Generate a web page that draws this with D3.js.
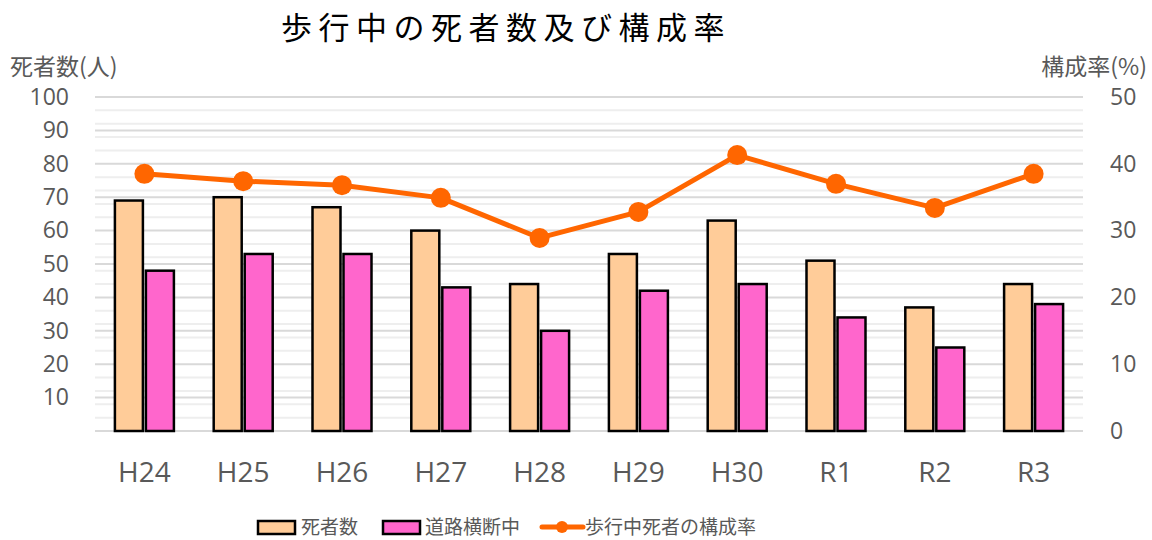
<!DOCTYPE html>
<html><head><meta charset="utf-8">
<script src="https://cdn.jsdelivr.net/npm/d3@7"></script>
<style>body{margin:0;background:#fff}svg{display:block}</style>
</head><body><svg id="c" width="1152" height="540"></svg>
<script>
const categories = ["H24","H25","H26","H27","H28","H29","H30","R1","R2","R3"];
const deaths = [69,70,67,60,44,53,63,51,37,44];
const crossing = [48,53,53,43,30,42,44,34,25,38];
const ratio = [38.5,37.4,36.8,34.9,28.9,32.8,41.3,37.0,33.4,38.5];
const leftTicks = [10,20,30,40,50,60,70,80,90,100];
const rightTicks = [0,10,20,30,40,50];

const svg = d3.select("#c");
const cjk = "'Noto Sans CJK JP','Open Sans',sans-serif";
const latin = "'Open Sans','Noto Sans',sans-serif";
const gray = "#595959";
const M = {l:95, r:1083, t:97, b:431};
const x = d3.scaleBand().domain(categories).range([M.l, M.r]);
const yL = d3.scaleLinear().domain([0,100]).range([M.b, M.t]);
const yR = d3.scaleLinear().domain([0,50]).range([M.b, M.t]);

// minor gridlines (right axis minor, every 2%)
const minor = d3.range(2,50,2).filter(v => (v*2)%10 !== 0);
svg.append("g").selectAll("line").data(minor).join("line")
  .attr("x1",M.l).attr("x2",M.r).attr("y1",d=>yR(d)).attr("y2",d=>yR(d))
  .attr("stroke","#eeeeee").attr("stroke-width",2);
// major gridlines
svg.append("g").selectAll("line").data(leftTicks).join("line")
  .attr("x1",M.l).attr("x2",M.r).attr("y1",d=>yL(d)).attr("y2",d=>yL(d))
  .attr("stroke","#d9d9d9").attr("stroke-width",2);
// baseline
svg.append("line").attr("x1",M.l).attr("x2",M.r).attr("y1",yL(0)).attr("y2",yL(0))
  .attr("stroke","#d9d9d9").attr("stroke-width",2);

// bars
const bw = 28, gap = 3;
svg.append("g").selectAll("rect").data(deaths).join("rect")
  .attr("x",(d,i)=>x(categories[i])+x.bandwidth()/2 - bw - gap/2)
  .attr("y",d=>yL(d)).attr("width",bw).attr("height",d=>yL(0)-yL(d))
  .attr("fill","#ffcc99").attr("stroke","#000").attr("stroke-width",2.5);
svg.append("g").selectAll("rect").data(crossing).join("rect")
  .attr("x",(d,i)=>x(categories[i])+x.bandwidth()/2 + gap/2)
  .attr("y",d=>yL(d)).attr("width",bw).attr("height",d=>yL(0)-yL(d))
  .attr("fill","#ff66cc").attr("stroke","#000").attr("stroke-width",2.5);

// line
const line = d3.line().x((d,i)=>x(categories[i])+x.bandwidth()/2).y(d=>yR(d));
svg.append("path").datum(ratio).attr("d",line).attr("fill","none")
  .attr("stroke","#ff6600").attr("stroke-width",5).attr("stroke-linejoin","round");
svg.append("g").selectAll("circle").data(ratio).join("circle")
  .attr("cx",(d,i)=>x(categories[i])+x.bandwidth()/2).attr("cy",d=>yR(d)).attr("r",10)
  .attr("fill","#ff6600");

// axes
const axL = svg.append("g").attr("transform",`translate(69,0)`)
  .call(d3.axisLeft(yL).tickValues(leftTicks).tickSize(0).tickPadding(0));
const axR = svg.append("g").attr("transform",`translate(1110,0)`)
  .call(d3.axisRight(yR).tickValues(rightTicks).tickSize(0).tickPadding(0));
const axB = svg.append("g").attr("transform",`translate(0,482)`)
  .call(d3.axisBottom(x).tickSize(0).tickPadding(0));
[axL,axR,axB].forEach(a=>{
  a.select(".domain").remove();
  a.selectAll("text").attr("fill",gray).style("font-family",latin).style("font-size","23px");
});
axB.selectAll("text").attr("dy","0").style("font-size","28px");

// titles
svg.append("text").attr("x",281).attr("y",39)
  .style("font-family",cjk).style("font-size","31px").style("letter-spacing","6.5px")
  .attr("fill","#000").text("歩行中の死者数及び構成率");
svg.append("text").attr("x",10).attr("y",75).style("font-family",cjk).style("font-size","23px")
  .attr("fill",gray).text("死者数(人)");
svg.append("text").attr("x",1147).attr("y",75).attr("text-anchor","end").style("font-family",cjk).style("font-size","23px")
  .attr("fill",gray).text("構成率(%)");

// legend
const lg = svg.append("g").style("font-family",cjk).style("font-size","19px");
const ly = 527;
lg.append("rect").attr("x",258).attr("y",ly-6).attr("width",37).attr("height",13)
  .attr("fill","#ffcc99").attr("stroke","#000").attr("stroke-width",2.5);
lg.append("text").attr("x",301).attr("y",ly).attr("dy","0.35em").attr("fill",gray).text("死者数");
lg.append("rect").attr("x",383).attr("y",ly-6).attr("width",37).attr("height",13)
  .attr("fill","#ff66cc").attr("stroke","#000").attr("stroke-width",2.5);
lg.append("text").attr("x",425).attr("y",ly).attr("dy","0.35em").attr("fill",gray).text("道路横断中");
lg.append("line").attr("x1",542).attr("x2",583).attr("y1",ly).attr("y2",ly)
  .attr("stroke","#ff6600").attr("stroke-width",5).attr("stroke-linecap","round");
lg.append("circle").attr("cx",562).attr("cy",ly).attr("r",6).attr("fill","#ff6600");
lg.append("text").attr("x",585).attr("y",ly).attr("dy","0.35em").attr("fill",gray).text("歩行中死者の構成率");
</script></body></html>
